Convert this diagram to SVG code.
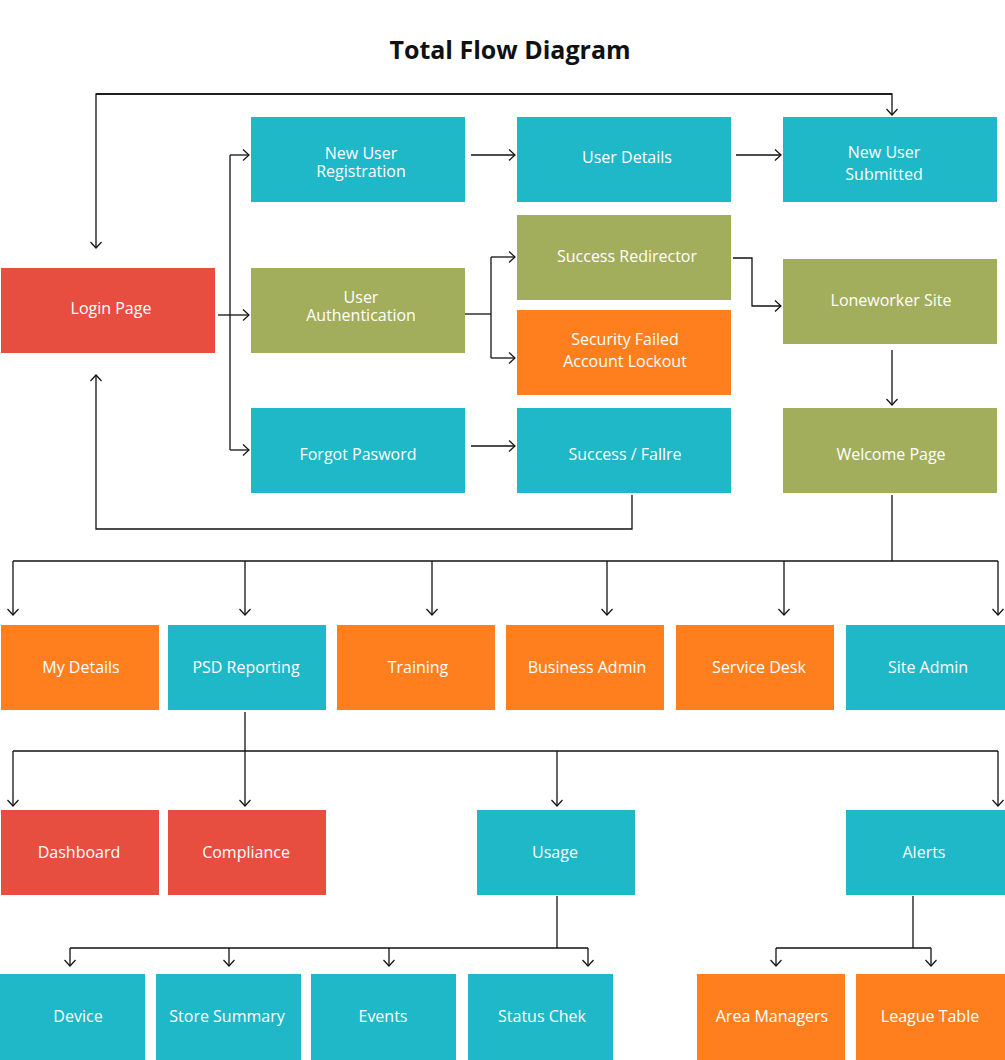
<svg xmlns="http://www.w3.org/2000/svg" width="1005" height="1060" viewBox="0 0 1005 1060">
<style>
.teal{fill:#1eb8c8}.green{fill:#a2ae5c}.red{fill:#e84e3f}.orange{fill:#ff7f1e}
.t{font-family:"Open Sans","Liberation Sans",sans-serif;font-size:16px;fill:#fff;text-anchor:middle}
.title{font-family:"Open Sans","Liberation Sans",sans-serif;font-size:25px;font-weight:bold;fill:#111;text-anchor:middle}
.c{fill:none;stroke:#111;stroke-width:1.3}
</style>
<defs>
<marker id="a" markerUnits="userSpaceOnUse" markerWidth="14" markerHeight="14" viewBox="-8 -7 10 14" refX="0" refY="0" orient="auto">
<path d="M-6,-5.5 L0,0 L-6,5.5" fill="none" stroke="#111" stroke-width="1.2"/>
</marker>
</defs>
<rect width="1005" height="1060" fill="#fff"/>
<text class="title" x="510" y="59">Total Flow Diagram</text>

<g id="connectors">
<path class="c" d="M892,94 H96 V248" marker-end="url(#a)"/>
<path class="c" d="M96,94 H892 V115" marker-end="url(#a)"/>
<path class="c" d="M218,315 H249" marker-end="url(#a)"/>
<path class="c" d="M230,155 V450"/>
<path class="c" d="M230,155 H249" marker-end="url(#a)"/>
<path class="c" d="M230,450 H249" marker-end="url(#a)"/>
<path class="c" d="M471,155 H515" marker-end="url(#a)"/>
<path class="c" d="M736,155 H781" marker-end="url(#a)"/>
<path class="c" d="M465,314 H491"/>
<path class="c" d="M491,257 V358"/>
<path class="c" d="M491,257 H515" marker-end="url(#a)"/>
<path class="c" d="M491,358 H515" marker-end="url(#a)"/>
<path class="c" d="M733,258 H752 V306 H781" marker-end="url(#a)"/>
<path class="c" d="M892,350 V405" marker-end="url(#a)"/>
<path class="c" d="M471,446 H515" marker-end="url(#a)"/>
<path class="c" d="M632,495 V529 H96 V375" marker-end="url(#a)"/>
<path class="c" d="M892,495 V561"/>
<path class="c" d="M13,561 H998"/>
<path class="c" d="M13,561 V615" marker-end="url(#a)"/>
<path class="c" d="M245,561 V615" marker-end="url(#a)"/>
<path class="c" d="M432,561 V615" marker-end="url(#a)"/>
<path class="c" d="M607,561 V615" marker-end="url(#a)"/>
<path class="c" d="M784,561 V615" marker-end="url(#a)"/>
<path class="c" d="M998,561 V615" marker-end="url(#a)"/>
<path class="c" d="M245,712 V806" marker-end="url(#a)"/>
<path class="c" d="M13,751 H998"/>
<path class="c" d="M13,751 V806" marker-end="url(#a)"/>
<path class="c" d="M557,751 V806" marker-end="url(#a)"/>
<path class="c" d="M998,751 V806" marker-end="url(#a)"/>
<path class="c" d="M557,896 V948"/>
<path class="c" d="M70,948 H588"/>
<path class="c" d="M70,948 V966" marker-end="url(#a)"/>
<path class="c" d="M229,948 V966" marker-end="url(#a)"/>
<path class="c" d="M389,948 V966" marker-end="url(#a)"/>
<path class="c" d="M588,948 V966" marker-end="url(#a)"/>
<path class="c" d="M913,896 V948"/>
<path class="c" d="M776,948 H931"/>
<path class="c" d="M776,948 V966" marker-end="url(#a)"/>
<path class="c" d="M931,948 V966" marker-end="url(#a)"/>
</g>

<g id="login"><rect class="red" x="1" y="268" width="214" height="85"/><text class="t" x="111" y="314">Login Page</text></g>
<g id="nur"><rect class="teal" x="251" y="117" width="214" height="85"/><text class="t" x="361" y="159">New User</text><text class="t" x="361" y="177">Registration</text></g>
<g id="ua"><rect class="green" x="251" y="268" width="214" height="85"/><text class="t" x="361" y="303">User</text><text class="t" x="361" y="321">Authentication</text></g>
<g id="fp"><rect class="teal" x="251" y="408" width="214" height="85"/><text class="t" x="358" y="460">Forgot Pasword</text></g>
<g id="ud"><rect class="teal" x="517" y="117" width="214" height="85"/><text class="t" x="627" y="163">User Details</text></g>
<g id="sr"><rect class="green" x="517" y="215" width="214" height="85"/><text class="t" x="627" y="262">Success Redirector</text></g>
<g id="sfl"><rect class="orange" x="517" y="310" width="214" height="85"/><text class="t" x="625" y="345">Security Failed</text><text class="t" x="625" y="367">Account Lockout</text></g>
<g id="sf"><rect class="teal" x="517" y="408" width="214" height="85"/><text class="t" x="625" y="460">Success / Fallre</text></g>
<g id="nus"><rect class="teal" x="783" y="117" width="214" height="85"/><text class="t" x="884" y="158">New User</text><text class="t" x="884" y="180">Submitted</text></g>
<g id="ls"><rect class="green" x="783" y="259" width="214" height="85"/><text class="t" x="891" y="306">Loneworker Site</text></g>
<g id="wp"><rect class="green" x="783" y="408" width="214" height="85"/><text class="t" x="891" y="460">Welcome Page</text></g>

<g id="mydetails"><rect class="orange" x="1" y="625" width="158" height="85"/><text class="t" x="81" y="673">My Details</text></g>
<g id="psd"><rect class="teal" x="168" y="625" width="158" height="85"/><text class="t" x="246" y="673">PSD Reporting</text></g>
<g id="training"><rect class="orange" x="337" y="625" width="158" height="85"/><text class="t" x="418" y="673">Training</text></g>
<g id="bizadmin"><rect class="orange" x="506" y="625" width="158" height="85"/><text class="t" x="587" y="673">Business Admin</text></g>
<g id="servicedesk"><rect class="orange" x="676" y="625" width="158" height="85"/><text class="t" x="759" y="673">Service Desk</text></g>
<g id="siteadmin"><rect class="teal" x="846" y="625" width="159" height="85"/><text class="t" x="928" y="673">Site Admin</text></g>

<g id="dashboard"><rect class="red" x="1" y="810" width="158" height="85"/><text class="t" x="79" y="858">Dashboard</text></g>
<g id="compliance"><rect class="red" x="168" y="810" width="158" height="85"/><text class="t" x="246" y="858">Compliance</text></g>
<g id="usage"><rect class="teal" x="477" y="810" width="158" height="85"/><text class="t" x="555" y="858">Usage</text></g>
<g id="alerts"><rect class="teal" x="846" y="810" width="159" height="85"/><text class="t" x="924" y="858">Alerts</text></g>

<g id="device"><rect class="teal" x="0" y="974" width="145" height="86"/><text class="t" x="78" y="1022">Device</text></g>
<g id="storesummary"><rect class="teal" x="156" y="974" width="145" height="86"/><text class="t" x="227" y="1022">Store Summary</text></g>
<g id="events"><rect class="teal" x="311" y="974" width="145" height="86"/><text class="t" x="383" y="1022">Events</text></g>
<g id="statuschek"><rect class="teal" x="468" y="974" width="145" height="86"/><text class="t" x="542" y="1022">Status Chek</text></g>
<g id="areamanagers"><rect class="orange" x="697" y="974" width="148" height="86"/><text class="t" x="772" y="1022">Area Managers</text></g>
<g id="leaguetable"><rect class="orange" x="856" y="974" width="149" height="86"/><text class="t" x="930" y="1022">League Table</text></g>
</svg>
